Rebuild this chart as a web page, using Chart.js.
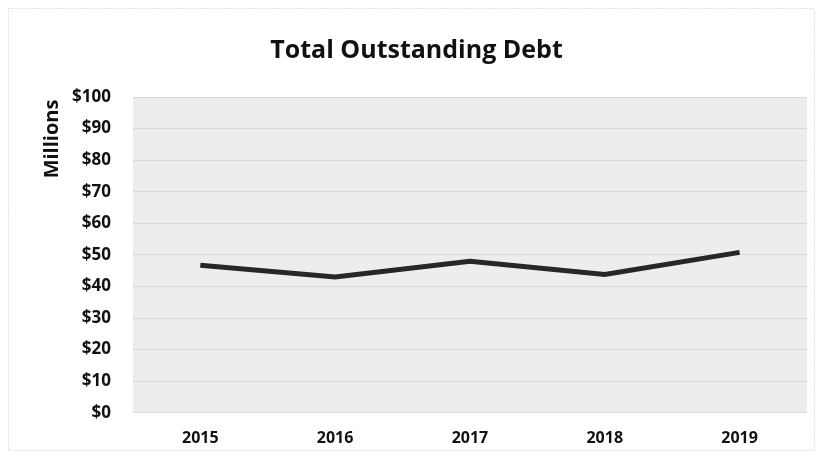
<!DOCTYPE html>
<html>
<head>
<meta charset="utf-8">
<script src="https://cdn.jsdelivr.net/npm/chart.js@4.4.1/dist/chart.umd.min.js"></script>
<style>
  html, body { margin: 0; padding: 0; background: #fff; }
  #wrap { width: 823px; height: 459px; position: relative; }
</style>
</head>
<body>
<div id="wrap"><canvas id="myChart" width="823" height="459"></canvas></div>
<script>
// data (millions of dollars)
let years = ['2015', '2016', '2017', '2018', '2019']
let debtValues = [46.7, 43.0, 48.0, 43.8, 50.8]
let yTicks = [0, 10, 20, 30, 40, 50, 60, 70, 80, 90, 100]
let yAxisTitle = 'Millions'

// light grey plot area + dotted outer frame, like the printed page
let paperPlugin = {
    id: 'paper',
    beforeDraw: function (chart) {
        let ctx = chart.ctx
        let a = chart.chartArea
        ctx.save()
        ctx.fillStyle = '#ffffff'
        ctx.fillRect(0, 0, chart.width, chart.height)
        ctx.strokeStyle = '#c8c8c8'
        ctx.setLineDash([1, 2])
        ctx.lineWidth = 1
        ctx.strokeRect(8.5, 8.5, chart.width - 17, chart.height - 17)
        ctx.setLineDash([])
        ctx.fillStyle = '#ededed'
        ctx.fillRect(a.left, a.top, a.right - a.left, a.bottom - a.top)
        ctx.restore()
    },
    // "Millions" sits near the top of the value axis, close to the tick labels
    afterDraw: function (chart) {
        let ctx = chart.ctx
        ctx.save()
        ctx.translate(52, chart.chartArea.top + 42)
        ctx.rotate(-Math.PI / 2)
        ctx.fillStyle = '#111'
        ctx.font = 'bold 20px "Open Sans"'
        ctx.textAlign = 'center'
        ctx.textBaseline = 'middle'
        ctx.fillText(yAxisTitle, 0, 0)
        ctx.restore()
    }
}

let ctx = document.getElementById('myChart').getContext('2d')

let chart = new Chart(ctx, {
    type: 'line',
    data: {
        labels: years,
        datasets: [{
            label: 'Total Outstanding Debt',
            data: debtValues,
            borderColor: '#262828',
            borderWidth: 5,
            pointRadius: 0,
            tension: 0,
            fill: false
        }]
    },
    options: {
        responsive: false,
        animation: false,
        layout: { padding: { top: 26, left: 26, right: 16, bottom: 3 } },
        plugins: {
            legend: { display: false },
            tooltip: { enabled: false },
            title: {
                display: true,
                text: 'Total Outstanding Debt',
                color: '#111',
                font: { family: 'Open Sans', size: 25, weight: 'bold' },
                padding: { top: 10, bottom: 31 }
            }
        },
        scales: {
            x: {
                offset: true,
                grid: { display: false },
                border: { display: false },
                ticks: {
                    color: '#111',
                    padding: 8,
                    font: { family: 'Open Sans', size: 16, weight: 'bold' }
                }
            },
            y: {
                min: 0,
                max: 100,
                afterBuildTicks: function (axis) {
                    axis.ticks = yTicks.map(function (v) { return { value: v } })
                },
                // room for the hand-drawn "Millions" title on the left
                afterFit: function (axis) {
                    axis.width += 24
                },
                grid: { color: '#d9d9d9', lineWidth: 1, drawTicks: false },
                border: { display: false },
                ticks: {
                    color: '#111',
                    padding: 22,
                    font: { family: 'Open Sans', size: 17, weight: 'bold' },
                    callback: function (v) { return '$' + v }
                }
            }
        }
    },
    plugins: [paperPlugin]
})
</script>
</body>
</html>
